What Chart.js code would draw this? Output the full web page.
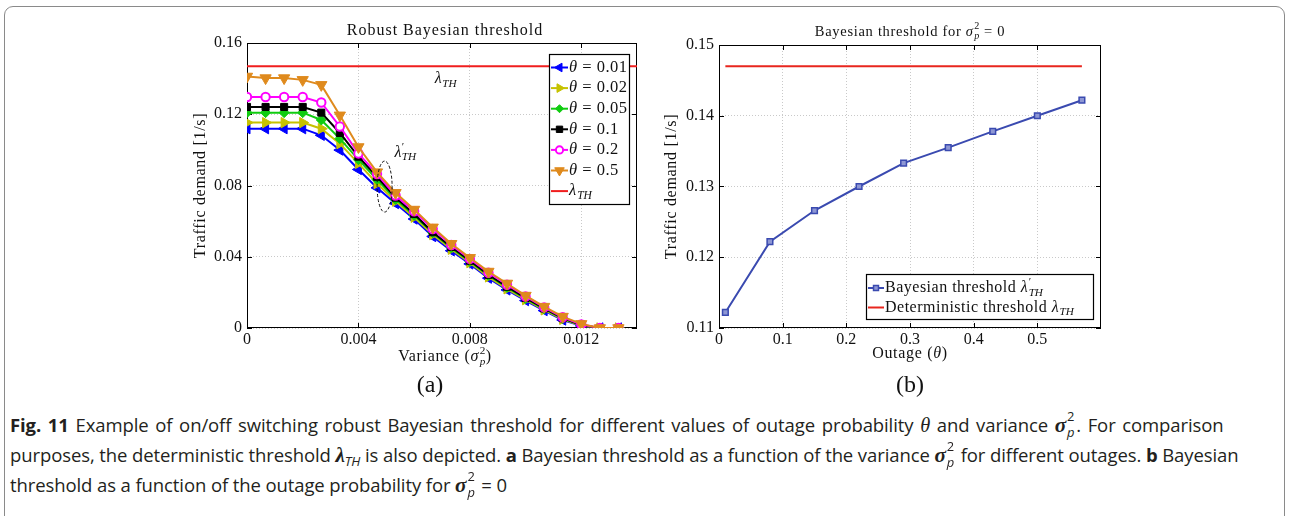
<!DOCTYPE html>
<html><head><meta charset="utf-8">
<script src="https://cdn.jsdelivr.net/npm/chart.js@4.4.0/dist/chart.umd.min.js"></script>
<style>
body{margin:0;background:#fff;width:1289px;height:516px;overflow:hidden;position:relative}
#frame{position:absolute;left:4px;top:6px;width:1281px;height:560px;border:1.5px solid #8a8a8a;border-radius:9px;box-sizing:border-box}
canvas{position:absolute;top:0}
#c1{left:0}
#c2{left:650px}
.lab{position:absolute;font:24px "Liberation Serif",serif;transform:translate(-50%,-50%);color:#111;white-space:nowrap}
#cap{position:absolute;left:10px;top:410px;font-family:"Open Sans",Lato,sans-serif;font-size:18.5px;line-height:30px;color:#231f20;white-space:nowrap;letter-spacing:-0.1px}
#cap .ln{display:block;height:30px}
#cap .l1{word-spacing:2px}
.m{font-family:"Liberation Serif",serif;font-style:italic;font-size:1.1em}
.mb{font-family:"Liberation Serif",serif;font-style:italic;font-weight:bold;font-size:1.15em}
.ss{display:inline-block;position:relative;width:0.55em;height:1em;vertical-align:-0.15em}
.ss>span{position:absolute;left:1px;font-size:0.7em;line-height:1}
.ss .u{top:-0.45em}
.ss .d{top:0.75em;font-style:italic}
sub.it{font-style:italic;font-size:0.72em;vertical-align:-0.3em;line-height:0}
</style></head><body>
<div id="frame"></div>
<canvas id="c1" width="650" height="400"></canvas>
<canvas id="c2" width="639" height="400"></canvas>
<div class="lab" style="left:430px;top:384px">(a)</div>
<div class="lab" style="left:910px;top:384px">(b)</div>
<div id="cap"><span class="ln l1"><b>Fig. 11</b> Example of on/off switching robust Bayesian threshold for different values of outage probability <span class="m">θ</span> and variance <span class="mb">σ</span><span class="ss"><span class="u">2</span><span class="d">p</span></span>. For comparison</span><span class="ln">purposes, the deterministic threshold <span class="mb">λ</span><sub class="it">TH</sub> is also depicted. <b>a</b> Bayesian threshold as a function of the variance <span class="mb">σ</span><span class="ss"><span class="u">2</span><span class="d">p</span></span> for different outages. <b>b</b> Bayesian</span><span class="ln">threshold as a function of the outage probability for <span class="mb">σ</span><span class="ss"><span class="u">2</span><span class="d">p</span></span> = 0</span></div>
<script>
// ---------- DATA (panel a) ----------
const variance = [0, 0.000667, 0.001333, 0.002, 0.002667, 0.003333, 0.004, 0.004667, 0.005333, 0.006, 0.006667,
  0.007333, 0.008, 0.008667, 0.009333, 0.01, 0.010667, 0.011333, 0.012, 0.012667, 0.013333];
const theta001 = [0.1119, 0.1119, 0.1119, 0.1119, 0.1082, 0.0999, 0.0890, 0.0787, 0.0699, 0.0612, 0.0514,
  0.0434, 0.0360, 0.0280, 0.0214, 0.0154, 0.0098, 0.0045, 0.0012, 0, 0];
const theta002 = [0.1153, 0.1153, 0.1153, 0.1153, 0.1119, 0.1035, 0.0924, 0.0811, 0.0712, 0.0622, 0.0525,
  0.0442, 0.0367, 0.0287, 0.0220, 0.0159, 0.0102, 0.0049, 0.0014, 0, 0];
const theta005 = [0.1209, 0.1209, 0.1209, 0.1209, 0.1168, 0.1063, 0.0945, 0.0834, 0.0722, 0.0632, 0.0535,
  0.0450, 0.0374, 0.0295, 0.0228, 0.0165, 0.0107, 0.0053, 0.0016, 0, 0];
const theta01 = [0.1241, 0.1241, 0.1241, 0.1241, 0.1209, 0.1095, 0.0962, 0.0849, 0.0732, 0.0640, 0.0538,
  0.0455, 0.0378, 0.0299, 0.0232, 0.0169, 0.0110, 0.0055, 0.0017, 0, 0];
const theta02 = [0.1297, 0.1297, 0.1297, 0.1297, 0.1266, 0.1131, 0.0980, 0.0864, 0.0744, 0.0655, 0.0556,
  0.0466, 0.0388, 0.0310, 0.0243, 0.0177, 0.0116, 0.0060, 0.0020, 0, 0];
const theta05 = [0.1412, 0.1403, 0.1403, 0.1393, 0.1365, 0.1194, 0.1016, 0.0875, 0.0759, 0.0665, 0.0565,
  0.0473, 0.0394, 0.0317, 0.0250, 0.0182, 0.0120, 0.0064, 0.0023, 0, 0];
const lambdaTH = 0.147;
const lambdaSpanA = [0, 0.014];
const xTicksA = [0, 0.004, 0.008, 0.012];
const xTickLabelsA = ['0', '0.004', '0.008', '0.012'];
const yTicksA = [0, 0.04, 0.08, 0.12, 0.16];
const yTickLabelsA = ['0', '0.04', '0.08', '0.12', '0.16'];
// ---------- DATA (panel b) ----------
const outage = [0.01, 0.08, 0.15, 0.22, 0.29, 0.36, 0.43, 0.50, 0.57];
const bayesThreshold = [0.1122, 0.1222, 0.1266, 0.1300, 0.1333, 0.1355, 0.1378, 0.1400, 0.1422];
const lambdaSpanB = [0.01, 0.57];
const xTicksB = [0, 0.1, 0.2, 0.3, 0.4, 0.5];
const xTickLabelsB = ['0', '0.1', '0.2', '0.3', '0.4', '0.5'];
const yTicksB = [0.11, 0.12, 0.13, 0.14, 0.15];
const yTickLabelsB = ['0.11', '0.12', '0.13', '0.14', '0.15'];

// ---------- helpers ----------
const FF = '"Liberation Serif", serif';
const TXT = '#111';
function fnt(size, it) { return (it ? 'italic ' : '') + size + 'px ' + FF; }
function layoutRich(ctx, parts, size, ls) {
  let w = 0; const out = [];
  for (const p of parts) {
    ctx.font = fnt(size, p.i); ctx.letterSpacing = ls + 'px';
    const mw = ctx.measureText(p.t).width;
    ctx.letterSpacing = '0px';
    let sw = 0;
    if (p.sup) { ctx.font = fnt(size * 0.7, !!p.supI); sw = Math.max(sw, ctx.measureText(p.sup).width); }
    if (p.sub) { ctx.font = fnt(size * 0.7, p.subI !== false); sw = Math.max(sw, ctx.measureText(p.sub).width); }
    out.push({ p, x: w, mw });
    w += mw + sw + (sw ? 1 : 0);
  }
  return { w, out };
}
function drawRich(ctx, parts, x, y, size, align, ls, color) {
  ctx.save();
  ctx.fillStyle = color || TXT; ctx.textBaseline = 'middle'; ctx.textAlign = 'left';
  const L = layoutRich(ctx, parts, size, ls || 0);
  const x0 = align === 'center' ? x - L.w / 2 : align === 'right' ? x - L.w : x;
  for (const o of L.out) {
    ctx.font = fnt(size, o.p.i); ctx.letterSpacing = (ls || 0) + 'px';
    ctx.fillText(o.p.t, x0 + o.x, y);
    ctx.letterSpacing = '0px';
    if (o.p.sup) { ctx.font = fnt(size * 0.7, !!o.p.supI); ctx.fillText(o.p.sup, x0 + o.x + o.mw + 0.5, y - size * 0.36); }
    if (o.p.sub) { ctx.font = fnt(size * 0.7, o.p.subI !== false); ctx.fillText(o.p.sub, x0 + o.x + o.mw + 0.5, y + size * 0.3); }
  }
  ctx.restore();
}
function drawMarker(ctx, st, x, y) {
  if (!st.style) return;
  Chart.helpers.drawPoint(ctx, { pointStyle: st.style, radius: st.r, rotation: st.rot || 0, borderWidth: st.bw || 1 }, x, y);
}
function frameAndTicks(chart) {
  const { ctx, chartArea: a, scales } = chart;
  ctx.save();
  ctx.strokeStyle = '#000'; ctx.lineWidth = 1;
  ctx.strokeRect(a.left + 0.5, a.top + 0.5, a.right - a.left - 1, a.bottom - a.top - 1);
  ctx.beginPath();
  const T = 5;
  for (const t of scales.x.ticks) {
    const px = Math.round(scales.x.getPixelForValue(t.value)) + 0.5;
    ctx.moveTo(px, a.bottom); ctx.lineTo(px, a.bottom - T);
    ctx.moveTo(px, a.top); ctx.lineTo(px, a.top + T);
  }
  for (const t of scales.y.ticks) {
    const py = Math.round(scales.y.getPixelForValue(t.value)) + 0.5;
    ctx.moveTo(a.left, py); ctx.lineTo(a.left + T, py);
    ctx.moveTo(a.right, py); ctx.lineTo(a.right - T, py);
  }
  ctx.stroke();
  ctx.restore();
}
function drawLegend(ctx, box, items, size, rowY0, rowStep, lineX0, lineX1, textX) {
  ctx.save();
  ctx.fillStyle = '#fff';
  ctx.fillRect(box.l, box.t, box.r - box.l, box.b - box.t);
  ctx.strokeStyle = '#000'; ctx.lineWidth = 1.2;
  ctx.strokeRect(box.l + 0.5, box.t + 0.5, box.r - box.l, box.b - box.t);
  items.forEach((it, i) => {
    const y = rowY0 + i * rowStep;
    ctx.strokeStyle = it.color; ctx.lineWidth = 2; ctx.setLineDash([]);
    ctx.beginPath(); ctx.moveTo(lineX0, y); ctx.lineTo(lineX1, y); ctx.stroke();
    ctx.fillStyle = it.fill || it.color; ctx.strokeStyle = it.color; ctx.lineWidth = it.bw || 1;
    if (it.style) drawMarker(ctx, { style: it.style, r: it.lr || it.r, rot: it.rot, bw: it.bw }, (lineX0 + lineX1) / 2, y);
    drawRich(ctx, it.parts, textX, y, size, 'left', 0.5);
  });
  ctx.restore();
}
function tickFromArrays(vals, labels) {
  return {
    afterBuildTicks: s => { s.ticks = vals.map(v => ({ value: v })); },
    callback: (v) => { const i = vals.findIndex(u => Math.abs(u - v) < 1e-9); return i >= 0 ? labels[i] : ''; }
  };
}
function pts(xs, ys) { return xs.map((x, i) => ({ x, y: ys[i] })); }

// ---------- styles ----------
const seriesA = [
  { name: '0.01', data: theta001, color: '#0000ff', style: 'triangle', rot: -90, r: 6, lr: 5 },
  { name: '0.02', data: theta002, color: '#c6c200', style: 'triangle', rot: 90, r: 6, lr: 5 },
  { name: '0.05', data: theta005, color: '#10cc10', style: 'rectRot', r: 5, lr: 4 },
  { name: '0.1', data: theta01, color: '#000000', style: 'rect', r: 5, lr: 4.5 },
  { name: '0.2', data: theta02, color: '#ff00ff', style: 'circle', r: 4.2, lr: 3.6, fill: '#ffffff', bw: 2 },
  { name: '0.5', data: theta05, color: '#df8a1d', style: 'triangle', rot: 180, r: 6.5, lr: 5.5 }
];
const redA = '#f01e1e';

const gridCommon = { color: '#c9c9c9', lineWidth: 1, drawTicks: false };
const borderCommon = { display: false, dash: [1, 2] };
const tickFont = { family: FF, size: 16 };

const datasetsA = seriesA.map((s, i) => ({
  label: 'θ = ' + s.name,
  data: pts(variance, s.data),
  borderColor: s.color, backgroundColor: s.fill || s.color,
  borderWidth: 2, pointStyle: s.style, pointRotation: s.rot || 0,
  pointRadius: s.r, pointBorderWidth: s.bw || 1, pointBorderColor: s.color,
  pointBackgroundColor: s.fill || s.color, order: 6 - i, tension: 0
}));
datasetsA.push({
  label: 'λTH', data: pts(lambdaSpanA, [lambdaTH, lambdaTH]), borderColor: redA,
  borderWidth: 2, pointRadius: 0, order: 10
});

const decoA = {
  id: 'decoA',
  beforeDatasetsDraw(chart) { frameAndTicks(chart); },
  afterDraw(chart) {
    const { ctx, chartArea: a, scales: { x, y } } = chart;
    drawRich(ctx, [{ t: 'Robust Bayesian threshold' }], (a.left + a.right) / 2 + 3, a.top - 12, 16, 'center', 1);
    ctx.save(); ctx.translate(a.left - 46, (a.top + a.bottom) / 2); ctx.rotate(-Math.PI / 2);
    drawRich(ctx, [{ t: 'Traffic demand [1/s]' }], 0, 0, 16, 'center', 0.7);
    ctx.restore();
    drawRich(ctx, [{ t: 'Variance (' }, { t: 'σ', i: true, sup: '2', sub: 'p' }, { t: ')' }], (a.left + a.right) / 2 + 3, a.bottom + 29, 16, 'center', 0.7);
    // annotations
    drawRich(ctx, [{ t: 'λ', i: true, sub: 'TH' }], x.getPixelForValue(0.00714), y.getPixelForValue(0.1397), 16, 'center', 0);
    drawRich(ctx, [{ t: 'λ', i: true, sup: '′', sub: 'TH' }], x.getPixelForValue(0.00569), y.getPixelForValue(0.0986), 16, 'center', 0);
    ctx.save(); ctx.strokeStyle = '#111'; ctx.lineWidth = 1; ctx.setLineDash([3, 2]);
    ctx.beginPath(); ctx.ellipse(x.getPixelForValue(0.00494), y.getPixelForValue(0.0794), 7.5, 25.5, 0, 0, Math.PI * 2); ctx.stroke();
    ctx.restore();
    // legend
    const items = seriesA.map(s => ({ color: s.color, style: s.style, rot: s.rot, r: s.r, lr: s.lr, fill: s.fill, bw: s.bw,
      parts: [{ t: 'θ', i: true }, { t: ' = ' + s.name }] }));
    items.push({ color: redA, parts: [{ t: 'λ', i: true, sub: 'TH' }] });
    const box = { l: a.right - 88, r: a.right - 8, t: a.top + 11, b: a.top + 161 };
    drawLegend(ctx, box, items, 16.5, box.t + 13.5, 20.6, box.l + 2, box.l + 19, box.l + 20);
  }
};

new Chart(document.getElementById('c1'), {
  type: 'line',
  data: { datasets: datasetsA },
  options: {
    responsive: false, animation: false, devicePixelRatio: 1,
    layout: { padding: { left: 0, right: 13, top: 43, bottom: 42 } },
    plugins: { legend: { display: false }, tooltip: { enabled: false }, title: { display: false } },
    scales: {
      x: { type: 'linear', min: 0, max: 0.014, grid: gridCommon, border: borderCommon,
        afterBuildTicks: tickFromArrays(xTicksA, xTickLabelsA).afterBuildTicks,
        ticks: { callback: tickFromArrays(xTicksA, xTickLabelsA).callback, font: tickFont, color: TXT, padding: 2, maxRotation: 0, autoSkip: false },
        afterFit: s => { s.height = 30; } },
      y: { type: 'linear', min: 0, max: 0.16, grid: gridCommon, border: borderCommon,
        afterBuildTicks: tickFromArrays(yTicksA, yTickLabelsA).afterBuildTicks,
        ticks: { callback: tickFromArrays(yTicksA, yTickLabelsA).callback, font: tickFont, color: TXT, padding: 5, autoSkip: false },
        afterFit: s => { s.width = 247; } }
    }
  },
  plugins: [decoA]
});

// ---------- panel b ----------
const blueB = '#3a4ab0', blueFillB = '#8e97d4', redB = '#e8261e';
const decoB = {
  id: 'decoB',
  beforeDatasetsDraw(chart) { frameAndTicks(chart); },
  afterDraw(chart) {
    const { ctx, chartArea: a } = chart;
    drawRich(ctx, [{ t: 'Bayesian threshold for ' }, { t: 'σ', i: true, sup: '2', sub: 'p' }, { t: ' = 0' }], (a.left + a.right) / 2, a.top - 13, 14.5, 'center', 0.7);
    ctx.save(); ctx.translate(a.left - 47, (a.top + a.bottom) / 2); ctx.rotate(-Math.PI / 2);
    drawRich(ctx, [{ t: 'Traffic demand [1/s]' }], 0, 0, 16, 'center', 0.7);
    ctx.restore();
    drawRich(ctx, [{ t: 'Outage (' }, { t: 'θ', i: true }, { t: ')' }], (a.left + a.right) / 2, a.bottom + 26, 16, 'center', 0.7);
    const items = [
      { color: blueB, style: 'rect', r: 4, lr: 3.5, fill: blueFillB, bw: 1.5, parts: [{ t: 'Bayesian threshold ' }, { t: 'λ', i: true, sup: '′', sub: 'TH' }] },
      { color: redB, parts: [{ t: 'Deterministic threshold ' }, { t: 'λ', i: true, sub: 'TH' }] }
    ];
    const box = { l: a.left + 147, r: a.right - 8, t: a.bottom - 54, b: a.bottom - 9 };
    drawLegend(ctx, box, items, 16, box.t + 14, 19.5, box.l + 2, box.l + 18, box.l + 19);
  }
};

new Chart(document.getElementById('c2'), {
  type: 'line',
  data: {
    datasets: [
      { label: 'Bayesian threshold', data: pts(outage, bayesThreshold), borderColor: blueB, borderWidth: 2,
        pointStyle: 'rect', pointRadius: 4, pointBackgroundColor: blueFillB, pointBorderColor: blueB, pointBorderWidth: 1.5, order: 1 },
      { label: 'Deterministic threshold', data: pts(lambdaSpanB, [lambdaTH, lambdaTH]), borderColor: redB, borderWidth: 2,
        pointRadius: 0, order: 2 }
    ]
  },
  options: {
    responsive: false, animation: false, devicePixelRatio: 1,
    layout: { padding: { left: 0, right: 188, top: 45, bottom: 42 } },
    plugins: { legend: { display: false }, tooltip: { enabled: false }, title: { display: false } },
    scales: {
      x: { type: 'linear', min: 0, max: 0.6, grid: gridCommon, border: borderCommon,
        afterBuildTicks: tickFromArrays(xTicksB, xTickLabelsB).afterBuildTicks,
        ticks: { callback: tickFromArrays(xTicksB, xTickLabelsB).callback, font: tickFont, color: TXT, padding: 2, maxRotation: 0, autoSkip: false },
        afterFit: s => { s.height = 30; } },
      y: { type: 'linear', min: 0.11, max: 0.15, grid: gridCommon, border: borderCommon,
        afterBuildTicks: tickFromArrays(yTicksB, yTickLabelsB).afterBuildTicks,
        ticks: { callback: tickFromArrays(yTicksB, yTickLabelsB).callback, font: tickFont, color: TXT, padding: 5, autoSkip: false },
        afterFit: s => { s.width = 69; } }
    }
  },
  plugins: [decoB]
});
</script>
</body></html>
